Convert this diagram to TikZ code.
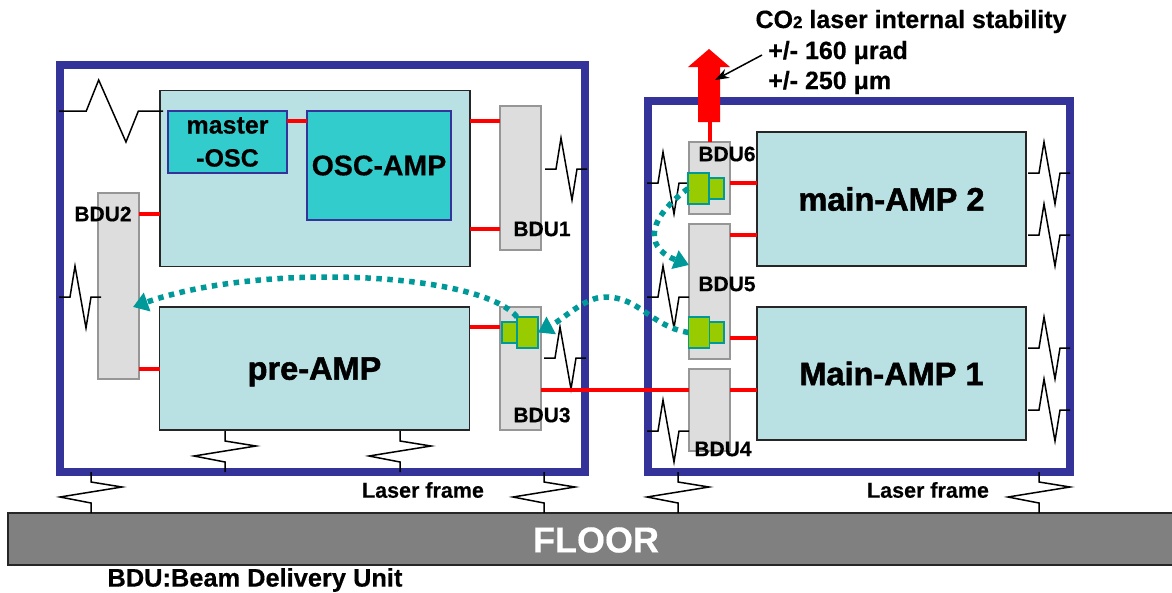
\documentclass[tikz,border=0pt]{standalone}
\usepackage{fontspec}
\setmainfont[BoldFeatures={FakeBold=0.4}]{Liberation Sans}
\newfontfamily\heavyfont[FakeBold=1.6]{Liberation Sans Bold}
\usetikzlibrary{arrows.meta}

\definecolor{framecol}{HTML}{333399}
\definecolor{blockcol}{HTML}{B9E0E3}
\definecolor{osccol}{HTML}{33CCCC}
\definecolor{bducol}{HTML}{DDDDDD}
\definecolor{edgecol}{HTML}{969696}
\definecolor{mirrorcol}{HTML}{99CC00}
\definecolor{dotcol}{HTML}{009999}

\tikzset{
	plain/.style={shape=rectangle,inner sep=0pt,outer sep=0pt},
	frame/.style={plain,draw=framecol,line width=8pt},
	block/.style={plain,draw=black!85,line width=1.5pt,fill=blockcol},
	oscbox/.style={plain,draw=framecol,line width=1.5pt,fill=osccol,font=\bfseries\fontsize{25}{33}\selectfont,align=center},
	bdubox/.style={plain,draw=edgecol,line width=1.5pt,fill=bducol,minimum width=41pt},
	mirror/.style={plain,draw=dotcol,line width=1.5pt,fill=mirrorcol},
	redlink/.style={-,red,line width=4pt},
	dotlink/.style={-{Triangle[length=15pt,width=19pt]},dotcol,line width=5.5pt,dash pattern=on 5.5pt off 5.5pt},
	spring/.style={black,line width=1.5pt},
	bdutext/.style={inner sep=0pt,font=\bfseries\fontsize{21}{21}\selectfont},
	amptext/.style={inner sep=0pt,font=\heavyfont\fontsize{32.5}{32.5}\selectfont},
	note/.style={inner sep=0pt,font=\bfseries\fontsize{25}{25}\selectfont},
	hspring/.pic={\draw[spring] (0,0) -- (11,0) -- (16,-31) -- (27,31) -- (32,0) -- (42,0);},
	vspring/.pic={\draw[spring] (0,0) -- (0,10) -- (31,15) -- (-31,25) -- (0,31) -- (0,41);},
}

\begin{document}
\begin{tikzpicture}[x=1pt,y=-1pt]
	
	\useasboundingbox (0,0) rectangle (1172,592);
	
	% floor and frames
	\node[plain,draw=black!85,line width=1.5pt,fill=black!50,minimum width=1180pt,minimum height=52pt] (floor) at (598, 539) {};
	\node[inner sep=0pt,text=white,font=\bfseries\fontsize{36}{36}\selectfont] (floortext) at (596, 540) {FLOOR};
	\node[frame,minimum width=525.5pt,minimum height=407pt] (frameleft) at (322.25, 268.5) {};
	\node[frame,minimum width=422.5pt,minimum height=371pt] (frameright) at (858.75, 286.5) {};
	
	% amplifier blocks
	\node[block,minimum width=310pt,minimum height=176pt] (oscblock) at (315, 178.5) {};
	\node[block,minimum width=310pt,minimum height=123pt,amptext,text depth=0pt] (preamp) at (314.5, 368.5) {pre-AMP};
	\node[block,minimum width=269pt,minimum height=134pt,amptext] (maintwo) at (891.5, 199) {main-AMP 2};
	\node[block,minimum width=269pt,minimum height=133pt,amptext] (mainone) at (891.5, 373.5) {Main-AMP 1};
	\node[oscbox,minimum width=119pt,minimum height=62pt] (master) at (227.5, 142) {master\\-OSC};
	\node[oscbox,minimum width=144pt,minimum height=109pt,font=\bfseries\fontsize{28.5}{28.5}\selectfont] (oscamp) at (379, 165.5) {OSC-AMP};
	
	% beam delivery units
	\node[bdubox,minimum height=186pt] (bdutwo) at (118.5, 286) {};
	\node[bdubox,minimum height=144pt] (bduone) at (520.5, 178) {};
	\node[bdubox,minimum height=123pt] (bduthree) at (520.5, 368.5) {};
	\node[bdubox,minimum height=72pt] (bdusix) at (709.5, 178) {};
	\node[bdubox,minimum height=135pt] (bdufive) at (709.5, 291.5) {};
	\node[bdubox,minimum height=82pt] (bdufour) at (709.5, 410) {};
	
	% springs
	\pic[xscale=2.48] at (59, 111) {hspring};
	\pic at (59, 297) {hspring};
	\pic at (545, 169) {hspring};
	\pic at (544, 358) {hspring};
	\pic at (647, 183) {hspring};
	\pic at (647, 297) {hspring};
	\pic at (647, 431) {hspring};
	\pic at (1028, 173) {hspring};
	\pic at (1028, 235) {hspring};
	\pic at (1028, 348) {hspring};
	\pic at (1028, 410) {hspring};
	\pic at (225, 431) {vspring};
	\pic at (400, 431) {vspring};
	\pic at (91, 472) {vspring};
	\pic at (544, 472) {vspring};
	\pic at (678, 472) {vspring};
	\pic at (1039, 472) {vspring};
	
	% beam lines
	\path[redlink] (master.east |- 0,121) edge (oscamp.west |- 0,121);
	\path[redlink] (oscblock.east |- 0,121) edge (bduone.west |- 0,121);
	\path[redlink] (oscblock.east |- 0,229) edge (bduone.west |- 0,229);
	\path[redlink] (bdutwo.east |- 0,214) edge (oscblock.west |- 0,214);
	\path[redlink] (bdutwo.east |- 0,369) edge (preamp.west |- 0,369);
	\path[redlink] (preamp.east |- 0,327) edge (bduthree.west |- 0,327);
	\path[redlink] (bduthree.east |- 0,390) edge (bdufour.west |- 0,390);
	\path[redlink] (bdufour.east |- 0,390) edge (mainone.west |- 0,390);
	\path[redlink] (bdufive.east |- 0,338) edge (mainone.west |- 0,338);
	\path[redlink] (bdufive.east |- 0,235) edge (maintwo.west |- 0,235);
	\path[redlink] (bdusix.east |- 0,183) edge (maintwo.west |- 0,183);
	
	% output beam
	\coordinate (beamfoot) at (709.5, 122);
	\path[redlink] (bdusix.north) edge (beamfoot);
	\fill[red] (698, 122) -- (698, 67) -- (688, 67) -- (709, 49) -- (730, 67) -- (720, 67) -- (720, 122) -- cycle;
	
	% mirrors
	\node[mirror,minimum width=15pt,minimum height=21pt] (smallthree) at (509.5, 332.5) {};
	\node[mirror,minimum width=21pt,minimum height=31pt] (mirrorthree) at (527.5, 332.5) {};
	\node[mirror,minimum width=15pt,minimum height=21pt] (smallfive) at (716.5, 332.5) {};
	\node[mirror,minimum width=21pt,minimum height=31pt] (mirrorfive) at (699, 332.5) {};
	\node[mirror,minimum width=15pt,minimum height=21pt] (smallsix) at (716.5, 188.5) {};
	\node[mirror,minimum width=21pt,minimum height=31pt] (mirrorsix) at (698.5, 188.5) {};
	
	% alignment paths
	\coordinate (bdutwotip) at (133, 307);
	\coordinate (humpfive) at (605, 297);
	\draw[dotlink] (mirrorthree.north west) .. controls (480,272) and (260,262) .. (bdutwotip);
	\draw[dotlink] (mirrorfive.west) .. controls (650,326) and (640,297) .. (humpfive) .. controls (585,297) and (565,318) .. (mirrorthree.east);
	\draw[dotlink] (mirrorsix.west) .. controls (640,225) and (650,250) .. (bdufive.west |- 0,265);
	
	% labels
	\node[bdutext] (bdutwolabel) at (103, 214) {BDU2};
	\node[bdutext] (bduonelabel) at (542, 229) {BDU1};
	\node[bdutext] (bduthreelabel) at (542, 415) {BDU3};
	\node[bdutext] (bdusixlabel) at (727, 154) {BDU6};
	\node[bdutext] (bdufivelabel) at (727, 284) {BDU5};
	\node[bdutext] (bdufourlabel) at (723, 449) {BDU4};
	\node[bdutext,font=\bfseries\fontsize{21.5}{21.5}\selectfont] (frametextleft) at (423, 490) {Laser frame};
	\node[bdutext,font=\bfseries\fontsize{21.5}{21.5}\selectfont] (frametextright) at (928, 490) {Laser frame};
	\node[inner sep=0pt,font=\bfseries\fontsize{25.4}{25.4}\selectfont] (bdunote) at (255, 580) {BDU:Beam Delivery Unit};
	\node[note,anchor=base] (stability) at (911, 28) {CO{\fontsize{17}{17}\selectfont 2} laser internal stability};
	\node[note,anchor=base west] (angle) at (768, 59) {+/- 160 μrad};
	\node[note,anchor=base west] (offset) at (768, 89) {+/- 250 μm};
	
	% pointer to the beam
	\coordinate (pointerfrom) at (762, 55);
	\coordinate (pointerto) at (715, 80);
	\draw[-{Stealth[length=14pt,width=10pt]},line width=1.5pt] (pointerfrom) -- (pointerto);
	
\end{tikzpicture}
\end{document}
